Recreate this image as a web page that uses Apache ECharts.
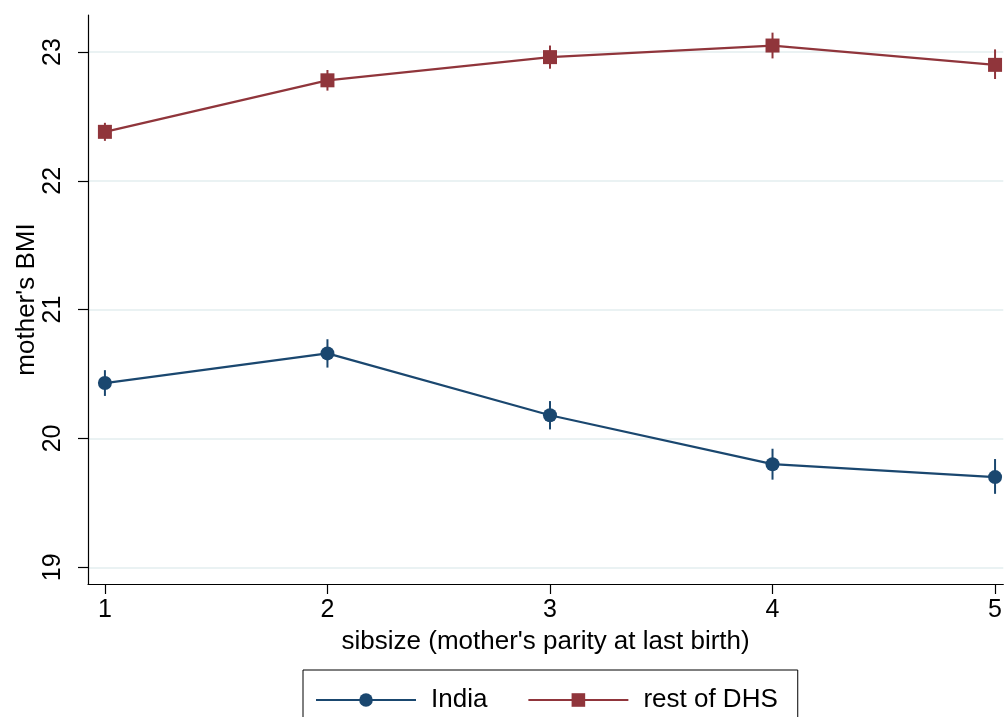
<!DOCTYPE html>
<html>
<head>
<meta charset="utf-8">
<script src="https://cdn.jsdelivr.net/npm/echarts@6/dist/echarts.min.js"></script>
<style>
  html, body { margin: 0; padding: 0; background: #fff; }
  #chart { width: 1005px; height: 717px; }
</style>
</head>
<body>
<div id="chart"></div>
<script>
// sibsize (x) and mean BMI with confidence bounds
var sibsize = [1, 2, 3, 4, 5];
var indiaMean = [20.43, 20.66, 20.18, 19.80, 19.70];
var indiaLo = [20.33, 20.55, 20.07, 19.68, 19.57];
var indiaHi = [20.53, 20.77, 20.29, 19.92, 19.84];
var dhsMean = [22.38, 22.78, 22.96, 23.05, 22.90];
var dhsLo = [22.31, 22.70, 22.87, 22.95, 22.79];
var dhsHi = [22.45, 22.86, 23.05, 23.15, 23.02];
var xTicks = [1, 2, 3, 4, 5];
var yTicks = [19, 20, 21, 22, 23];

var BLUE = '#1a476f', RED = '#90353b';
var FONT = 'Liberation Sans, Arial, sans-serif';

function pairs(xs, ys) {
	return xs.map(function(x, i) { return [x, ys[i]]; });
}
function bars(xs, lo, hi) {
	return xs.map(function(x, i) { return [x, lo[i], hi[i]]; });
}
/**竖直误差线*/
function errorBar(color) {
	return function(params, api) {
		var p1 = api.coord([api.value(0), api.value(1)]);
		var p2 = api.coord([api.value(0), api.value(2)]);
		return {
			type: 'line',
			shape: { x1: p1[0], y1: p1[1], x2: p2[0], y2: p2[1] },
			style: { stroke: color, lineWidth: 2 }
		};
	};
}

var chart = echarts.init(document.getElementById('chart'));
chart.setOption({
	animation: false,
	textStyle: { fontFamily: FONT },
	grid: { left: 88, right: 0, top: 15, bottom: 133 },
	xAxis: {
		type: 'value',
		min: 0.924,
		max: 5.037,
		name: "sibsize (mother's parity at last birth)",
		nameLocation: 'middle',
		nameGap: 45,
		nameMoveOverlap: false,
		nameTextStyle: { fontSize: 26, color: '#000', fontFamily: FONT },
		axisLine: { show: true, onZero: false, lineStyle: { color: '#000', width: 1.2 } },
		axisTick: { show: true, length: 10, customValues: xTicks, lineStyle: { color: '#000', width: 1.2 } },
		axisLabel: { fontSize: 25, color: '#000', margin: 14, customValues: xTicks, fontFamily: FONT },
		splitLine: { show: false }
	},
	yAxis: {
		type: 'value',
		min: 18.87,
		max: 23.287,
		name: "mother's BMI",
		nameLocation: 'middle',
		nameGap: 48,
		nameMoveOverlap: false,
		nameRotate: 90,
		nameTextStyle: { fontSize: 26, color: '#000', fontFamily: FONT },
		axisLine: { show: true, onZero: false, lineStyle: { color: '#000', width: 1.2 } },
		axisTick: { show: true, length: 10, customValues: yTicks, lineStyle: { color: '#000', width: 1.2 } },
		axisLabel: { fontSize: 25, color: '#000', margin: 22, rotate: 90, customValues: yTicks, fontFamily: FONT },
		splitLine: { show: true, lineStyle: { color: '#eaf2f3', width: 2 } }
	},
	legend: {
		data: ['India', 'rest of DHS'],
		left: 303,
		top: 670,
		padding: [17, 20, 17, 12],
		itemWidth: 100,
		itemHeight: 17,
		itemGap: 40,
		borderColor: '#000',
		borderWidth: 1,
		textStyle: { fontSize: 26, color: '#000', fontFamily: FONT, padding: [0, 0, 0, 10] }
	},
	series: [
		{
			type: 'custom',
			name: 'India CI',
			renderItem: errorBar(BLUE),
			data: bars(sibsize, indiaLo, indiaHi),
			z: 2
		},
		{
			type: 'custom',
			name: 'DHS CI',
			renderItem: errorBar(RED),
			data: bars(sibsize, dhsLo, dhsHi),
			z: 2
		},
		{
			type: 'line',
			name: 'India',
			data: pairs(sibsize, indiaMean),
			symbol: 'circle',
			symbolSize: 14,
			color: BLUE,
			lineStyle: { color: BLUE, width: 2.2 },
			itemStyle: { color: BLUE },
			z: 3
		},
		{
			type: 'line',
			name: 'rest of DHS',
			data: pairs(sibsize, dhsMean),
			symbol: 'rect',
			symbolSize: 14,
			color: RED,
			lineStyle: { color: RED, width: 2.2 },
			itemStyle: { color: RED },
			z: 3
		}
	]
});
</script>
</body>
</html>
